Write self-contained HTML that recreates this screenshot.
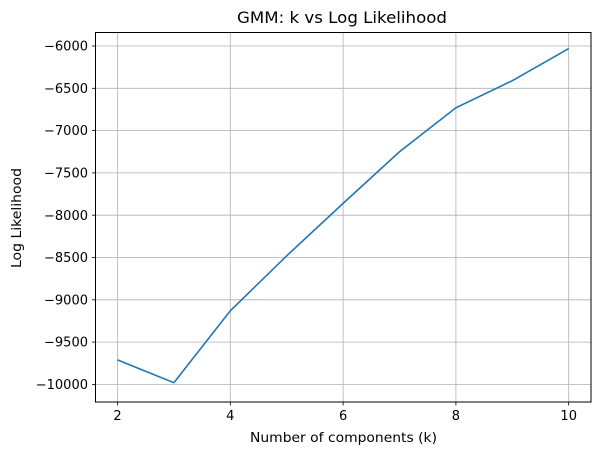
<!DOCTYPE html>
<html><head><meta charset="utf-8"><style>body{margin:0;background:#fff}text{font-family:"DejaVu Sans","Liberation Sans",sans-serif;fill:#000}</style></head>
<body>
<svg id="chart" width="600" height="455" xmlns="http://www.w3.org/2000/svg">
<g id="grid"></g>
<g id="series"></g>
<rect x="95.5" y="32.5" width="495.5" height="369.5" fill="none" stroke="#000" stroke-width="1"/>
<g id="ticks"></g>
<text x="237" y="23" font-size="16" textLength="210" lengthAdjust="spacingAndGlyphs">GMM: k vs Log Likelihood</text>
<text x="250" y="442" font-size="13.5" textLength="187" lengthAdjust="spacingAndGlyphs">Number of components (k)</text>
<text transform="translate(21,268) rotate(-90)" font-size="13.5" textLength="100" lengthAdjust="spacingAndGlyphs">Log Likelihood</text>
</svg>
<script>
const categories=[2,3,4,5,6,7,8,9,10];
const values=[-9710,-9980,-9130,-8480,-7860,-7250,-6730,-6410,-6030];
const xTicks=[2,4,6,8,10];
const yTicks=[-6000,-6500,-7000,-7500,-8000,-8500,-9000,-9500,-10000];
const NS="http://www.w3.org/2000/svg";
function X(v){return 117.5+(v-2)*(568.7-117.5)/8;}
function Y(v){return 46+(-6000-v)*0.0846;}
const grid=document.getElementById('grid'),ticks=document.getElementById('ticks'),series=document.getElementById('series');
function mk(p,tag,a){const e=document.createElementNS(NS,tag);for(const k in a)e.setAttribute(k,a[k]);p.appendChild(e);return e;}
xTicks.forEach(t=>{const x=X(t);
 const g=mk(grid,'line',{x1:x,x2:x,y1:32.5,y2:402,stroke:'#b0b0b0','stroke-width':0.8});
 
 
 mk(ticks,'line',{x1:x,x2:x,y1:402,y2:405.5,stroke:'#000','stroke-width':0.8});
 const l=mk(ticks,'text',{x:x,y:420,'font-size':13,'text-anchor':'middle'});l.textContent=t;
 
 
});
yTicks.forEach(t=>{const y=Y(t);
 const g=mk(grid,'line',{x1:95.5,x2:591,y1:y,y2:y,stroke:'#b0b0b0','stroke-width':0.8});
 
 
 mk(ticks,'line',{x1:92,x2:95.5,y1:y,y2:y,stroke:'#000','stroke-width':0.8});
 const l=mk(ticks,'text',{x:88,y:y+4.6,'font-size':13,'text-anchor':'end'});l.textContent='\u2212'+Math.abs(t);
 
 
});
const pl=mk(series,'polyline',{points:categories.map((c,i)=>X(c)+','+Y(values[i])).join(' '),fill:'none',stroke:'#1f77b4','stroke-width':1.6});


</script>
</body></html>
